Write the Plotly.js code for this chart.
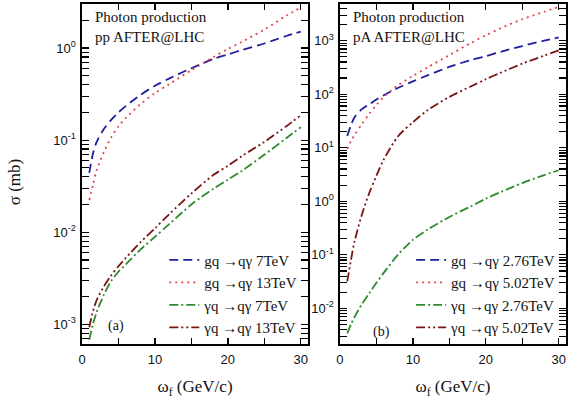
<!DOCTYPE html>
<html><head><meta charset="utf-8">
<script src="https://cdn.plot.ly/plotly-3.0.1.min.js"></script>
<style>html,body{margin:0;padding:0;background:#fff}#plot{width:579px;height:411px}</style>
</head><body><div id="plot"></div>
<script>
// x values (GeV/c)
const omega = [1, 1.5, 2, 3, 4, 5, 6, 8, 10, 12, 15, 18, 20, 22, 25, 28, 30];

// panel (a) pp AFTER@LHC, sigma (mb)
const pp_gq_7   = [0.044, 0.071, 0.095, 0.132, 0.166, 0.2, 0.234, 0.309, 0.389, 0.468, 0.603, 0.759, 0.851, 0.955, 1.12, 1.35, 1.51];
const pp_gq_13  = [0.0224, 0.0324, 0.0468, 0.0741, 0.107, 0.141, 0.174, 0.245, 0.324, 0.407, 0.575, 0.794, 0.977, 1.175, 1.585, 2.24, 2.75];
const pp_yq_7   = [6.8e-4, 1e-3, 1.35e-3, 2.09e-3, 2.95e-3, 3.72e-3, 4.47e-3, 6.46e-3, 8.9e-3, 0.0123, 0.02, 0.0295, 0.0372, 0.0468, 0.0692, 0.105, 0.138];
const pp_yq_13  = [9.3e-4, 1.38e-3, 1.82e-3, 2.57e-3, 3.39e-3, 4.27e-3, 5.25e-3, 7.76e-3, 0.011, 0.0158, 0.0263, 0.0417, 0.0525, 0.0676, 0.0955, 0.141, 0.186];

// panel (b) pA AFTER@LHC, sigma (mb)
const pA_gq_276 = [16.6, 26.3, 37.2, 52.5, 64.6, 79.4, 95.5, 132, 174, 224, 324, 437, 513, 617, 794, 1000, 1150];
const pA_gq_502 = [9.5, 13.2, 17.4, 27.5, 42.7, 63, 89, 148, 219, 316, 537, 912, 1259, 1698, 2512, 3467, 4266];
const pA_yq_276 = [0.0034, 0.005, 0.0069, 0.012, 0.019, 0.03, 0.046, 0.102, 0.19, 0.295, 0.51, 0.81, 1.12, 1.48, 2.19, 3.09, 3.8];
const pA_yq_502 = [0.032, 0.079, 0.178, 0.56, 1.41, 3.0, 6.0, 16.6, 30, 50, 89, 141, 190, 251, 372, 525, 661];

const namesA = ['gq →qγ 7TeV', 'gq →qγ 13TeV', 'γq →qγ 7TeV', 'γq →qγ 13TeV'];
const namesB = ['gq →qγ 2.76TeV', 'gq →qγ 5.02TeV', 'γq →qγ 2.76TeV', 'γq →qγ 5.02TeV'];
const xTicks = [0, 10, 20, 30];
const xMinorTicks = [5, 15, 25];
const yTicksA = [-3, -2, -1, 0];
const yTicksB = [-2, -1, 0, 1, 2, 3];

const colors = ['#1f1f9e', '#e04848', '#2f8a2f', '#7a1515'];
const dashes = ['9px,5px', '2px,4px', '9px,3px,2px,3px', '9px,3px,2px,3px,2px,3px'];

function mk(y, name, i, xa, ya, leg) {
  return {x: omega, y: y, name: name, type: 'scatter', mode: 'lines', xaxis: xa, yaxis: ya,
    legend: leg, line: {color: colors[i], width: 1.8, dash: dashes[i], shape: 'spline', smoothing: 0.8}};
}
const traces = [
  mk(pp_gq_7, namesA[0], 0, 'x', 'y', 'legend'),
  mk(pp_gq_13, namesA[1], 1, 'x', 'y', 'legend'),
  mk(pp_yq_7, namesA[2], 2, 'x', 'y', 'legend'),
  mk(pp_yq_13, namesA[3], 3, 'x', 'y', 'legend'),
  mk(pA_gq_276, namesB[0], 0, 'x2', 'y2', 'legend2'),
  mk(pA_gq_502, namesB[1], 1, 'x2', 'y2', 'legend2'),
  mk(pA_yq_276, namesB[2], 2, 'x2', 'y2', 'legend2'),
  mk(pA_yq_502, namesB[3], 3, 'x2', 'y2', 'legend2')
];

function minorLog(lo, hi) {
  const v = [];
  for (let p = lo; p <= hi; p++) for (let m = 2; m <= 9; m++) v.push(m * Math.pow(10, p));
  return v;
}
const tickFont = {family: 'Liberation Sans, Arial, sans-serif', size: 13, color: '#111'};
const serif = 'Liberation Serif, Times New Roman, serif';

// major ticks labelled, minor ticks share the same array with empty labels
function xax(domain, anchor) {
  const vals = xTicks.concat(xMinorTicks);
  const txt = xTicks.map(String).concat(xMinorTicks.map(() => ''));
  return {domain: domain, anchor: anchor, range: [0, 31], tickmode: 'array', tickvals: vals, ticktext: txt,
    ticks: 'inside', ticklen: 6, tickwidth: 1.4, tickcolor: '#000', mirror: 'allticks',
    showline: true, linecolor: '#000', linewidth: 1.6, showgrid: false, zeroline: false,
    tickfont: tickFont, ticklabelstandoff: 3,
    title: {text: 'ω<sub>f</sub> (GeV/c)', font: {family: serif, size: 17, color: '#111'}, standoff: 14}};
}
function yax(rng, ticks, anchor) {
  const minors = minorLog(ticks[0] - 1, ticks[ticks.length - 1]);
  const vals = ticks.map(p => Math.pow(10, p)).concat(minors);
  const txt = ticks.map(p => '10<sup>' + p + '</sup>').concat(minors.map(() => ''));
  return {type: 'log', range: rng, anchor: anchor, tickmode: 'array', tickvals: vals, ticktext: txt,
    ticks: 'inside', ticklen: 7, tickwidth: 1.2, tickcolor: '#000', mirror: 'allticks',
    showline: true, linecolor: '#000', linewidth: 1.6, showgrid: false, zeroline: false,
    tickfont: tickFont, ticklabelstandoff: 2};
}

const legFont = {family: serif, size: 15, color: '#111'};
const layout = {
  width: 579, height: 411, paper_bgcolor: '#fff', plot_bgcolor: '#fff',
  margin: {l: 82, r: 13, t: 4, b: 67},
  showlegend: true,
  xaxis: xax([0, 0.467], 'y'),
  yaxis: yax([-3.214, 0.478], yTicksA, 'x'),
  xaxis2: xax([0.533, 1], 'y2'),
  yaxis2: yax([-2.666, 3.685], yTicksB, 'x2'),
  legend: {x: 0.17, y: 0.295, xanchor: 'left', yanchor: 'top', bgcolor: 'rgba(0,0,0,0)', font: legFont,
    tracegroupgap: 0, itemwidth: 30},
  legend2: {x: 0.68, y: 0.295, xanchor: 'left', yanchor: 'top', bgcolor: 'rgba(0,0,0,0)', font: legFont,
    tracegroupgap: 0, itemwidth: 30},
  annotations: [
    {xref: 'paper', yref: 'paper', x: 0.023, y: 0.99, xanchor: 'left', yanchor: 'top', showarrow: false, align: 'left',
     text: 'Photon production<br>pp AFTER@LHC', font: {family: serif, size: 15, color: '#111'}},
    {xref: 'paper', yref: 'paper', x: 0.556, y: 0.99, xanchor: 'left', yanchor: 'top', showarrow: false, align: 'left',
     text: 'Photon production<br>pA AFTER@LHC', font: {family: serif, size: 15, color: '#111'}},
    {xref: 'paper', yref: 'paper', x: 0.07, y: 0.052, xanchor: 'center', yanchor: 'middle', showarrow: false,
     text: '(a)', font: {family: serif, size: 14, color: '#111'}},
    {xref: 'paper', yref: 'paper', x: 0.618, y: 0.035, xanchor: 'center', yanchor: 'middle', showarrow: false,
     text: '(b)', font: {family: serif, size: 14, color: '#111'}},
    {xref: 'paper', yref: 'paper', x: -0.139, y: 0.475, xanchor: 'center', yanchor: 'middle', showarrow: false,
     textangle: -90, text: 'σ (mb)', font: {family: serif, size: 17, color: '#111'}}
  ]
};
Plotly.newPlot('plot', traces, layout, {displayModeBar: false, staticPlot: true});
</script></body></html>
